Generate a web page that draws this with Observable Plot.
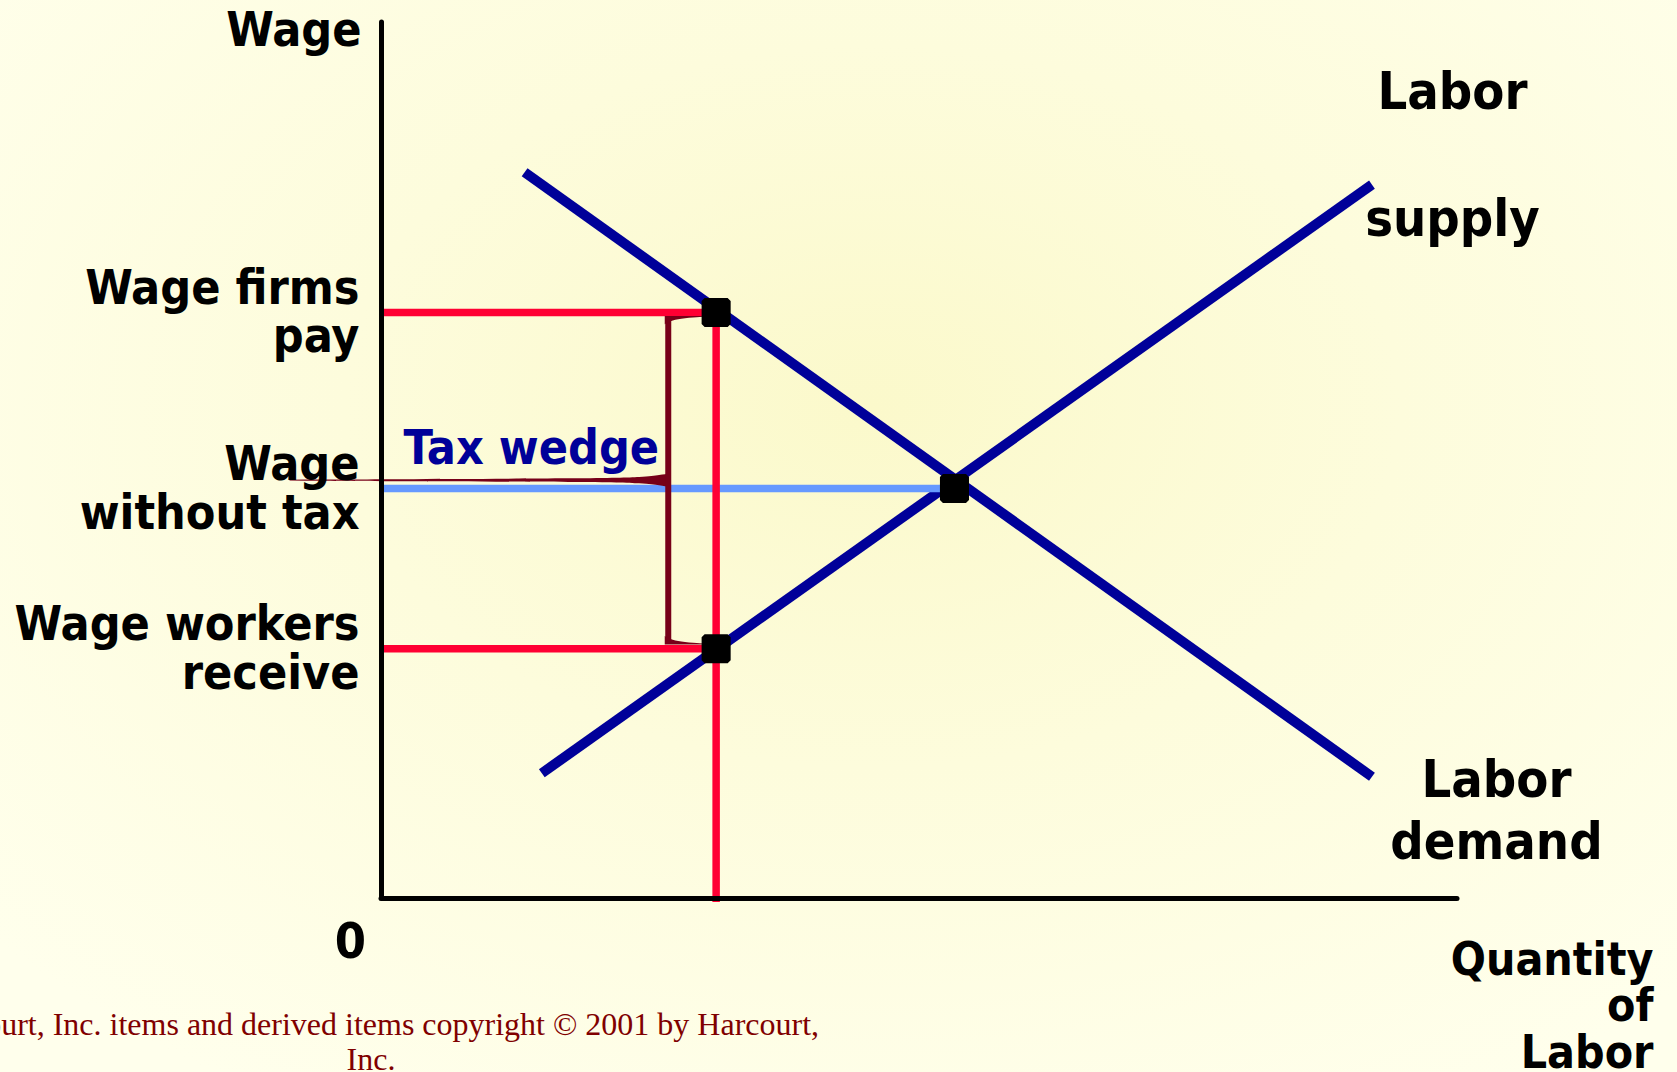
<!DOCTYPE html>
<html>
<head>
<meta charset="utf-8">
<script src="https://cdn.jsdelivr.net/npm/d3@7"></script>
<script src="https://cdn.jsdelivr.net/npm/@observablehq/plot@0.6"></script>
<style>
html, body { margin: 0; padding: 0; }
body {
  width: 1677px; height: 1072px; overflow: hidden; position: relative;
  background: radial-gradient(ellipse 70% 75% at 52% 38%, #FBF9CB 0%, #FDFCDC 45%, #FFFFEC 100%);
}
#chart { position: absolute; left: 0; top: 0; }
#caption {
  position: absolute; left: -129px; top: 1007px; width: 1000px; text-align: center;
  font-family: "Liberation Serif", "Times New Roman", serif; font-size: 32px; line-height: 35px;
  color: #800000;
}
</style>
</head>
<body>
<div id="chart"></div>
<div id="caption">Harcourt, Inc. items and derived items copyright © 2001 by Harcourt,<br>Inc.</div>
<script>
// ---- data (quantity of labor 0..100, wage 0..100) ----
const demandQ = [13.3, 92.05];
const demandW = [82.9, 13.9];
const supplyQ = [14.9, 92.05];
const supplyW = [14.3, 81.5];
const qTax = 31.1;       // quantity with the tax
const qEq = 53.25;       // quantity without tax
const wFirms = 66.9;     // wage firms pay
const wNoTax = 46.8;     // wage without tax
const wWorkers = 28.5;   // wage workers receive
const leftLabels = ["Wage firms\npay", "Wage\nwithout tax", "Wage workers\nreceive"];
const leftLabelW = [wFirms, wNoTax, wWorkers];
const yAxisLabel = "Wage";
const xAxisLabel = "Quantity\nof\nLabor";
const originLabel = "0";
const supplyLabel = "Labor\nsupply";
const demandLabel = "Labor\ndemand";
const wedgeLabel = "Tax wedge";

// ---- derived tables ----
const demand = demandQ.map((q, i) => ({q, w: demandW[i]}));
const supply = supplyQ.map((q, i) => ({q, w: supplyW[i]}));
const points = [{q: qTax, w: wFirms}, {q: qEq, w: wNoTax}, {q: qTax, w: wWorkers}];
const left = leftLabels.map((t, i) => ({t, q: 0, w: leftLabelW[i]}));

// brace geometry derived from the wedge
const qb = qTax - 4.45;
const mid = (wFirms + wWorkers) / 2;
const topCurl = [
  {q: qb - 0.28, a: wFirms - 0.45, b: wFirms - 1.4},
  {q: qb + 0.4, a: wFirms - 0.45, b: wFirms - 0.95},
  {q: qb + 1.5, a: wFirms - 0.45, b: wFirms - 0.7},
  {q: qTax - 1.2, a: wFirms - 0.45, b: wFirms - 0.55}
];
const botCurl = topCurl.map(d => ({q: d.q, a: wWorkers + (d.a - wFirms) * -1, b: wWorkers + (d.b - wFirms) * -1}));
const tail = [
  {q: -8.5, a: mid - 0.05, b: mid + 0.05},
  {q: 0, a: mid - 0.11, b: mid + 0.11},
  {q: 20, a: mid - 0.2, b: mid + 0.2},
  {q: 24.5, a: mid - 0.35, b: mid + 0.35},
  {q: 25.9, a: mid - 0.6, b: mid + 0.6},
  {q: qb + 0.3, a: mid - 0.8, b: mid + 0.8}
];

const FONT = '"DejaVu Sans Condensed", "DejaVu Sans", Verdana, sans-serif';
const NAVY = "#000099", RED = "#FF0033", BLUE = "#6699FF", BRACE = "#770018";
const bold = {fontWeight: "bold", fill: "black", lineAnchor: "bottom"};

const plot = Plot.plot({
  width: 1677, height: 1072,
  marginLeft: 381, marginRight: 220, marginTop: 22, marginBottom: 174,
  x: {domain: [0, 100], axis: null},
  y: {domain: [0, 100], axis: null},
  style: {background: "transparent", fontFamily: FONT, fontStretch: "condensed", overflow: "visible"},
  marks: [
    Plot.line(demand, {x: "q", y: "w", stroke: NAVY, strokeWidth: 10, strokeLinecap: "butt"}),
    Plot.line(supply, {x: "q", y: "w", stroke: NAVY, strokeWidth: 10, strokeLinecap: "butt"}),
    Plot.ruleY([wNoTax], {x1: 0, x2: qEq, stroke: BLUE, strokeWidth: 7.5}),
    Plot.ruleY([wFirms, wWorkers], {x1: 0, x2: qTax, stroke: RED, strokeWidth: 7.5}),
    Plot.ruleX([qTax], {y1: wFirms, y2: -0.45, stroke: RED, strokeWidth: 7.5}),
    // brace
    Plot.areaY(tail, {x: "q", y1: "a", y2: "b", fill: BRACE, curve: "basis"}),
    Plot.ruleX([qb], {y1: wFirms - 0.8, y2: wWorkers + 0.8, stroke: BRACE, strokeWidth: 6}),
    Plot.areaY(topCurl, {x: "q", y1: "a", y2: "b", fill: BRACE, curve: "basis"}),
    Plot.areaY(botCurl, {x: "q", y1: "a", y2: "b", fill: BRACE, curve: "basis"}),
    // axes
    Plot.ruleX([0], {y1: 0, y2: 100, stroke: "black", strokeWidth: 5, strokeLinecap: "round"}),
    Plot.ruleY([0], {x1: 0, x2: 100, stroke: "black", strokeWidth: 5, strokeLinecap: "round"}),
    // points (octagon-like markers)
    Plot.dot(points, {x: "q", y: "w", symbol: "square", r: 13, fill: "black", stroke: "black", strokeWidth: 6, strokeLinejoin: "bevel"}),
    // labels
    Plot.text(left, {x: "q", y: "w", text: "t", textAnchor: "end", dx: -22, dy: 40, lineHeight: 1.02, fontSize: 48, ...bold}),
    Plot.text([{t: yAxisLabel, q: 0, w: 100}], {x: "q", y: "w", text: "t", textAnchor: "end", dx: -20, dy: 23, fontSize: 48, ...bold}),
    Plot.text([{t: originLabel, q: 0, w: 0}], {x: "q", y: "w", text: "t", textAnchor: "middle", dx: -31, dy: 59, fontSize: 50, ...bold}),
    Plot.text([{t: supplyLabel, q: supplyQ[1], w: supplyW[1]}], {x: "q", y: "w", text: "t", textAnchor: "middle", dx: 80.5, dy: 51, lineHeight: 2.44, fontSize: 52, ...bold}),
    Plot.text([{t: demandLabel, q: demandQ[1], w: demandW[1]}], {x: "q", y: "w", text: "t", textAnchor: "middle", dx: 124.5, dy: 82, lineHeight: 1.19, fontSize: 52, ...bold}),
    Plot.text([{t: xAxisLabel, q: 100, w: 0}], {x: "q", y: "w", text: "t", textAnchor: "end", dx: 196, dy: 169, lineHeight: 1.01, fontSize: 46, ...bold}),
    Plot.text([{t: wedgeLabel, q: 0, w: wNoTax}], {x: "q", y: "w", text: "t", textAnchor: "start", dx: 22, dy: -25, fontSize: 48, fontWeight: "bold", fill: NAVY, lineAnchor: "bottom"})
  ]
});
document.getElementById("chart").appendChild(plot);
</script>
</body>
</html>
